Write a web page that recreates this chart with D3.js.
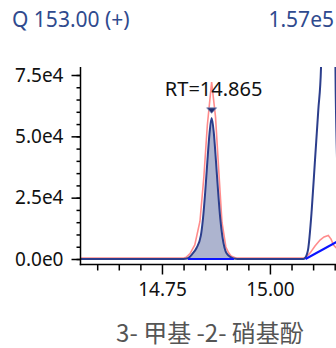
<!DOCTYPE html>
<html>
<head>
<meta charset="utf-8">
<script src="https://cdn.jsdelivr.net/npm/d3@7"></script>
<style>
  body { margin: 0; background: #fff; }
  svg { display: block; font-family: "Noto Sans", "Open Sans", sans-serif; }
</style>
</head>
<body>
<div id="chart"></div>
<script>
const svgWidth = 336;
const svgHeight = 348;

// header texts
const ionLabel = "Q 153.00 (+)";
const maxLabel = "1.57e5";
const compoundName = "3- 甲基 -2- 硝基酚";

// tick values
const xMajorTicks = [14.75, 15.00];
const xMinorTicks = [14.60, 14.65, 14.70, 14.80, 14.85, 14.90, 14.95, 15.05, 15.10, 15.15];
const yMajorTicks = [0, 25000, 50000, 75000];
const yMinorTicks = d3.range(0, 80000, 5000);

// smoothed trace (navy)
const smoothRT = [14.55, 14.800, 14.810, 14.820, 14.830, 14.840, 14.845, 14.850, 14.855, 14.860, 14.865,
  14.870, 14.875, 14.880, 14.885, 14.890, 14.895, 14.900, 14.910, 14.920, 14.930,
  15.0773, 15.0813, 15.0882, 15.0968, 15.1044, 15.1120, 15.1183, 15.122, 15.132, 15.145, 15.1505, 15.1523, 15.160];
const smoothInt = [0, 0, 300, 2000, 4500, 9500, 16500, 27000, 39500, 51000, 57500,
  51500, 40000, 27500, 16500, 9000, 4500, 2200, 700, 100, 0,
  0, 400, 3700, 20000, 40400, 60700, 78000, 110000, 157000, 150000, 100000, 68000, 20000];

// raw trace (red)
const rawRT = [14.55, 14.800, 14.806, 14.815, 14.826, 14.838, 14.847, 14.855, 14.865, 14.874, 14.882,
  14.889, 14.898, 14.904, 14.910, 14.921, 15.0813, 15.0929, 15.1044, 15.1160, 15.1253, 15.1352, 15.1415, 15.1473, 15.160];
const rawInt = [0, 0, 300, 1800, 5300, 15000, 33000, 54000, 71700, 57500, 34200,
  14500, 4500, 2200, 800, 0, 0, 2000, 4900, 7300, 8600, 9200, 7700, 5300, 3000];

// integration baselines
const base1RT = [14.810, 14.9167];
const base1Int = [0, 0];
const base2RT = [15.0824, 15.160];
const base2Int = [0, 7500];

// apex marker
const apexRT = 14.865;
const apexMarker = 61000;
const rtLabel = "RT=14.865";

const navy = "#2c3e8c";

const svg = d3.select("#chart")
  .append("svg")
  .attr("width", svgWidth)
  .attr("height", svgHeight);

const x = d3.scaleLinear()
  .domain([14.5625, 15.153])
  .range([81, 336]);

const y = d3.scaleLinear()
  .domain([0, 75000])
  .range([259, 75]);

const plotTop = 67;
const axisY = 264.5;

svg.append("defs").append("clipPath")
  .attr("id", "plot")
  .append("rect")
  .attr("x", 81)
  .attr("y", plotTop)
  .attr("width", svgWidth - 81)
  .attr("height", 259 - plotTop + 2);

const plot = svg.append("g").attr("clip-path", "url(#plot)");

const smooth = smoothRT.map((t, i) => [t, smoothInt[i]]);
const raw = rawRT.map((t, i) => [t, rawInt[i]]);

// filled peak area
const peakArea = smooth.filter(d => d[0] >= base1RT[0] && d[0] <= base1RT[1]);
plot.append("path")
  .datum(peakArea)
  .attr("fill", "#adb4cf")
  .attr("d", d3.area()
    .x(d => x(d[0]))
    .y0(y(0))
    .y1(d => y(d[1]))
    .curve(d3.curveMonotoneX));

// raw trace
plot.append("path")
  .datum(raw)
  .attr("fill", "none")
  .attr("stroke", "#ff6f6f")
  .attr("stroke-opacity", 0.8)
  .attr("stroke-width", 1.6)
  .attr("transform", "translate(0,-1)")
  .attr("d", d3.line().x(d => x(d[0])).y(d => y(d[1])));

// smoothed trace
plot.append("path")
  .datum(smooth)
  .attr("fill", "none")
  .attr("stroke", navy)
  .attr("stroke-width", 2)
  .attr("d", d3.line().x(d => x(d[0])).y(d => y(d[1])).curve(d3.curveMonotoneX));

// baselines
[[base1RT, base1Int], [base2RT, base2Int]].forEach(([ts, vs]) => {
  plot.append("line")
    .attr("x1", x(ts[0])).attr("y1", y(vs[0]))
    .attr("x2", x(ts[1])).attr("y2", y(vs[1]))
    .attr("stroke", "#0a14ff")
    .attr("stroke-width", 2);
});

// apex marker
const mx = x(apexRT);
const my = y(apexMarker);
svg.append("path")
  .attr("d", `M${mx - 5},${my - 1.5} L${mx + 5},${my - 1.5} L${mx},${my + 4} Z`)
  .attr("fill", "#1f2d6e")
  .attr("stroke", "#7f8ab8")
  .attr("stroke-width", 0.8);

svg.append("text")
  .attr("x", mx + 2)
  .attr("y", 96)
  .attr("text-anchor", "middle")
  .attr("font-size", 20)
  .attr("fill", "#111")
  .text(rtLabel);

// y axis
const fmtY = v => d3.format(".1e")(v).replace("e+", "e");
svg.append("g")
  .attr("transform", "translate(80.5,0)")
  .call(d3.axisLeft(y).tickValues(yMinorTicks).tickSize(4).tickFormat(""))
  .call(g => g.select(".domain").remove())
  .call(g => g.selectAll("line").attr("stroke", "#000").attr("stroke-width", 1.5));

svg.append("g")
  .attr("transform", "translate(80.5,0)")
  .call(d3.axisLeft(y).tickValues(yMajorTicks).tickSize(9).tickPadding(8).tickFormat(fmtY))
  .call(g => g.select(".domain").remove())
  .call(g => g.selectAll("line").attr("stroke", "#000").attr("stroke-width", 1.5))
  .call(g => g.selectAll("text").attr("font-size", 19).attr("fill", "#111")
    .attr("font-family", "'Noto Sans', 'Open Sans', sans-serif"));

// x axis
svg.append("g")
  .attr("transform", `translate(0,${axisY})`)
  .call(d3.axisBottom(x).tickValues(xMinorTicks).tickSize(6).tickFormat(""))
  .call(g => g.select(".domain").remove())
  .call(g => g.selectAll("line").attr("stroke", "#000").attr("stroke-width", 1.5));

svg.append("g")
  .attr("transform", `translate(0,${axisY})`)
  .call(d3.axisBottom(x).tickValues(xMajorTicks).tickSize(10).tickPadding(8).tickFormat(d3.format(".2f")))
  .call(g => g.select(".domain").remove())
  .call(g => g.selectAll("line").attr("stroke", "#000").attr("stroke-width", 1.5))
  .call(g => g.selectAll("text").attr("font-size", 19).attr("fill", "#111")
    .attr("font-family", "'Noto Sans', 'Open Sans', sans-serif"));

// axis lines
svg.append("line")
  .attr("x1", 80.5).attr("y1", plotTop)
  .attr("x2", 80.5).attr("y2", axisY + 0.75)
  .attr("stroke", "#000").attr("stroke-width", 1.5);
svg.append("line")
  .attr("x1", 79.75).attr("y1", axisY)
  .attr("x2", svgWidth).attr("y2", axisY)
  .attr("stroke", "#000").attr("stroke-width", 1.5);

// header
svg.append("text")
  .attr("x", 12)
  .attr("y", 27)
  .attr("font-size", 21)
  .attr("fill", "#2f4a8e")
  .text(ionLabel);

svg.append("text")
  .attr("x", 334)
  .attr("y", 27)
  .attr("text-anchor", "end")
  .attr("font-size", 21)
  .attr("fill", "#2f4a8e")
  .text(maxLabel);

// compound name
svg.append("text")
  .attr("x", 210)
  .attr("y", 342)
  .attr("text-anchor", "middle")
  .attr("font-size", 24)
  .attr("fill", "#555")
  .attr("font-family", "'Noto Sans CJK SC', 'Noto Sans', sans-serif")
  .text(compoundName);
</script>
</body>
</html>
